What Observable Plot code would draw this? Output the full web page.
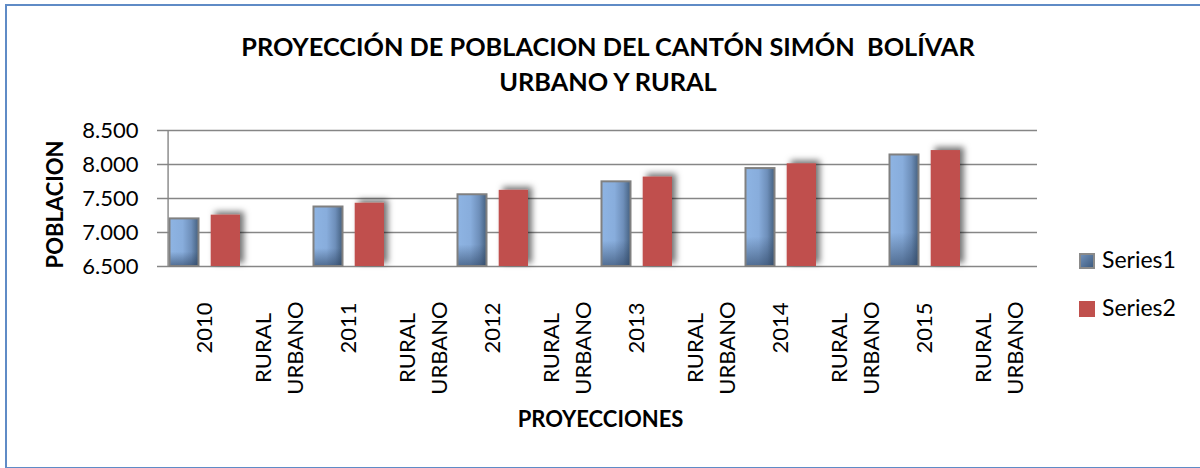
<!DOCTYPE html>
<html>
<head>
<meta charset="utf-8">
<script src="https://cdn.jsdelivr.net/npm/d3@7"></script>
<script src="https://cdn.jsdelivr.net/npm/@observablehq/plot@0.6"></script>
<style>
  html, body { margin: 0; padding: 0; background: #fff; }
  #wrap { position: relative; width: 1200px; height: 468px; overflow: hidden; font-family: Lato, "Open Sans", sans-serif; color: #000; }
  #chart { position: absolute; left: 0; top: 0; }
  #frame { position: absolute; left: 5px; top: 4px; width: 1250px; height: 465px; box-sizing: border-box; border: 2px solid #5F8BC6; }
  #title { position: absolute; left: 0; top: 29px; width: 1216px; text-align: center; font-weight: bold; font-size: 25.3px; line-height: 35px; white-space: pre; }
  .leg { position: absolute; left: 1079px; font-size: 23px; line-height: 23px; white-space: nowrap; }
  .sw { display: inline-block; width: 16px; height: 16px; box-sizing: border-box; vertical-align: -1px; margin-right: 7px; }
</style>
</head>
<body>
<div id="wrap">
  <div id="chart"></div>
  <div id="title"></div>
  <div id="legend"></div>
  <div id="frame"></div>
</div>
<script>
// ---- data ----
const titleLines = ["PROYECCIÓN DE POBLACION DEL CANTÓN SIMÓN  BOLÍVAR", "URBANO Y RURAL"];
const yTitle = "POBLACION";
const xTitle = "PROYECCIONES";
const xLabels = ["2010", "RURAL\nURBANO", "2011", "RURAL\nURBANO", "2012", "RURAL\nURBANO",
                 "2013", "RURAL\nURBANO", "2014", "RURAL\nURBANO", "2015", "RURAL\nURBANO"];
const yearSlots = [0, 2, 4, 6, 8, 10];
const series1 = [7200, 7375, 7555, 7745, 7940, 8140];
const series2 = [7255, 7430, 7620, 7815, 8010, 8205];
const seriesNames = ["Series1", "Series2"];
const yTicks = [6500, 7000, 7500, 8000, 8500];
const yDomain = [6500, 8500];

// ---- build table ----
const table = yearSlots.map((slot, i) => ({slot, s1: series1[i], s2: series2[i]}));
const labelRows = xLabels.map((label, slot) => ({slot, label, isYear: !label.includes("\n")}));

const W = 1200, H = 468;
const mL = 163, mR = 163, mT = 130, mB = 202;
const bw = (W - mL - mR) / xLabels.length;
const fmt = d => d3.format(",")(d).replace(/,/g, ".");

const plot = Plot.plot({
  width: W,
  height: H,
  marginLeft: mL, marginRight: mR, marginTop: mT, marginBottom: mB,
  style: {background: "transparent", fontFamily: "Lato, sans-serif", fontSize: "22px", overflow: "visible"},
  x: {domain: d3.range(xLabels.length), padding: 0, axis: null},
  y: {domain: yDomain, ticks: yTicks, tickFormat: fmt, tickSize: 0, tickPadding: 25, label: null},
  marks: [
    Plot.ruleY(yTicks, {stroke: "#868686", strokeWidth: 1.4, insetLeft: -6}),
    Plot.barY(table, {x: "slot", y1: () => yDomain[0], y2: "s1", fill: "url(#blueGrad)", insetLeft: 1.5, insetRight: 41.5}),
    Plot.barY(table, {x: "slot", y1: () => yDomain[0], y2: "s1", fill: "url(#blueShade)", stroke: "#808080", strokeWidth: 2, insetLeft: 1.5, insetRight: 41.5}),
    Plot.barY(table, {x: "slot", y1: () => yDomain[0], y2: "s2", fill: "#C0504D", insetLeft: 42.7, insetRight: 0, ariaDescription: "series2"}),
    Plot.ruleX([0], {x: d => d, y1: yDomain[0], y2: yDomain[1], dx: -bw / 2, stroke: "#868686", strokeWidth: 1.4}),
    Plot.text(labelRows.filter(d => d.isYear), {x: "slot", text: "label", frameAnchor: "bottom", rotate: -90, textAnchor: "end", lineAnchor: "middle", dy: 36, fontSize: 22, fill: "#000"}),
    Plot.text(labelRows.filter(d => !d.isYear), {x: "slot", text: "label", frameAnchor: "bottom", rotate: -90, textAnchor: "middle", lineAnchor: "middle", lineHeight: 1.45, dy: 81.5, fontSize: 22, fill: "#000"}),
    Plot.text([yTitle], {text: d => d, frameAnchor: "left", rotate: -90, textAnchor: "middle", lineAnchor: "middle", dx: -108, dy: 6, fontSize: 22, fontWeight: "bold", fill: "#000"}),
    Plot.text([xTitle], {text: d => d, frameAnchor: "bottom", textAnchor: "middle", lineAnchor: "middle", dy: 153.5, fontSize: 22, fontWeight: "bold", fill: "#000"})
  ]
});

// gradients and shadow
const svg = d3.select(plot);
const defs = svg.insert("defs", ":first-child");
const g1 = defs.append("linearGradient").attr("id", "blueGrad").attr("x1", 0).attr("x2", 1).attr("y1", 0).attr("y2", 0);
[[0, "#8EB4E3"], [0.45, "#88ADDC"], [0.75, "#6E8FBA"], [1, "#44607F"]].forEach(([o, c]) =>
  g1.append("stop").attr("offset", o).attr("stop-color", c));
const g2 = defs.append("linearGradient").attr("id", "blueShade").attr("x1", 0).attr("x2", 0).attr("y1", 0).attr("y2", 1);
[[0, "#2A405E", 0], [0.7, "#2A405E", 0], [1, "#2A405E", 0.6]].forEach(([o, c, a]) =>
  g2.append("stop").attr("offset", o).attr("stop-color", c).attr("stop-opacity", a));
const f = defs.append("filter").attr("id", "shadow").attr("x", "-50%").attr("y", "-50%").attr("width", "200%").attr("height", "200%");
f.append("feDropShadow").attr("dx", 4).attr("dy", -3).attr("stdDeviation", 3).attr("flood-color", "#000").attr("flood-opacity", 0.55);
svg.selectAll("g[aria-description='series2'] rect").attr("filter", "url(#shadow)");

document.getElementById("chart").appendChild(plot);

// title
document.getElementById("title").textContent = titleLines.join("\n");

// legend
const legendColors = ["linear-gradient(135deg,#6F8FB8,#3F5C80)", "#C0504D"];
const legendTops = [248, 296];
const legend = document.getElementById("legend");
seriesNames.forEach((name, i) => {
  const div = document.createElement("div");
  div.className = "leg";
  div.style.top = legendTops[i] + "px";
  const sw = document.createElement("span");
  sw.className = "sw";
  sw.style.background = legendColors[i];
  if (i === 0) sw.style.border = "2px solid #8A8A8A";
  div.appendChild(sw);
  div.appendChild(document.createTextNode(name));
  legend.appendChild(div);
});
</script>
</body>
</html>
